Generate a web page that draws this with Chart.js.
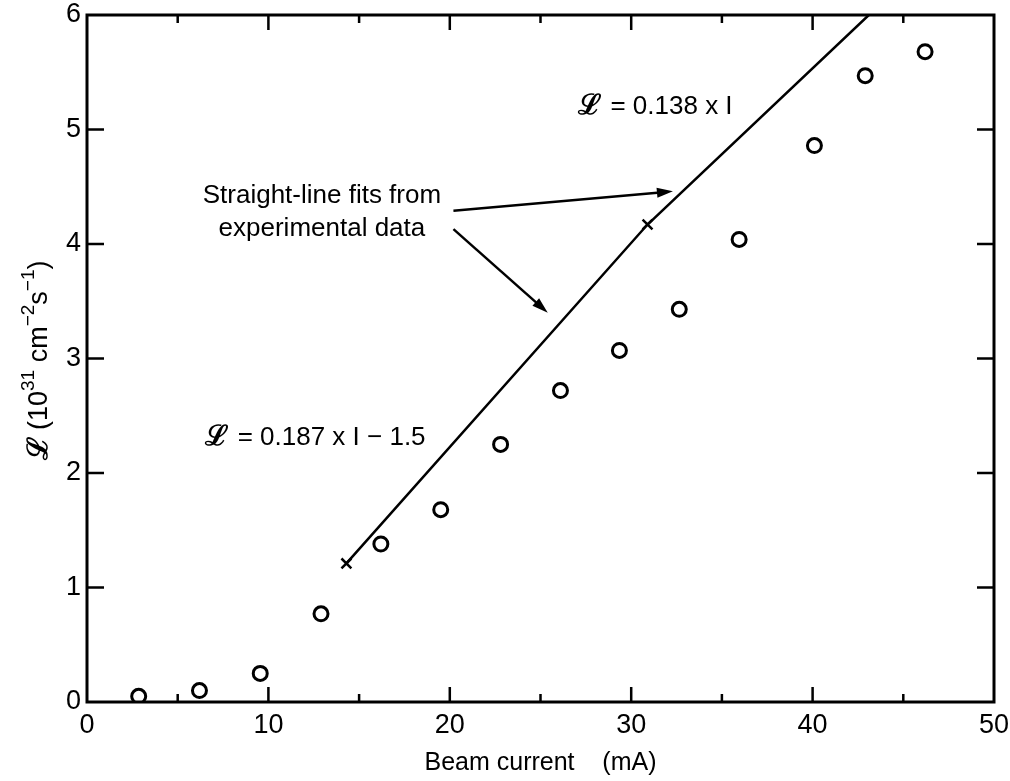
<!DOCTYPE html>
<html>
<head>
<meta charset="utf-8">
<script src="https://cdn.jsdelivr.net/npm/chart.js@4.4.0/dist/chart.umd.min.js"></script>
<style>
  body { margin: 0; background: #fff; }
  #wrap { width: 1010px; height: 781px; }
</style>
</head>
<body>
<div id="wrap"><canvas id="myChart"></canvas></div>
<script>
// measured points (beam current in mA, luminosity in 1e31 cm-2 s-1)
const beamCurrent = [2.85, 6.2, 9.55, 12.9, 16.2, 19.5, 22.8, 26.1, 29.35, 32.65, 35.95, 40.1, 42.9, 46.2];
const luminosity  = [0.05, 0.10, 0.25, 0.77, 1.38, 1.68, 2.25, 2.72, 3.07, 3.43, 4.04, 4.86, 5.47, 5.68];

// straight-line fits (crosses at the two first points)
const fitCurrent = [14.3, 30.9, 43.1];
const fitLum     = [1.21, 4.17, 6.0];

const xTickMajor = [10, 20, 30, 40];
const xTickMinor = [5, 15, 25, 35, 45];
const yTickMajor = [1, 2, 3, 4, 5];

// annotation texts and arrows, in data units
const noteLines = ['Straight-line fits from', 'experimental data'];
const noteAt = [[12.95, 4.42], [12.95, 4.13]];
const fitLabels = ['= 0.138 x I', '= 0.187 x I \u2212 1.5'];
const fitLabelAt = [[27.05, 5.2], [6.5, 2.31]];
const arrows = [
  [[20.2, 4.29], [32.3, 4.46]],
  [[20.2, 4.13], [25.4, 3.40]]
];

// y axis title pieces: [text, kind] kind: L = script symbol, n = normal, s = superscript
const yTitle = [['\u2112', 'L'], [' (10', 'n'], ['31', 's'], [' cm', 'n'], ['\u22122', 's'], ['s', 'n'], ['\u22121', 's'], [')', 'n']];

const FONT = "'Liberation Sans', Arial, 'DejaVu Sans', sans-serif";
const SCRIPT_L = "bold 28px 'DejaVu Serif', serif";

const pts = beamCurrent.map((x, i) => ({ x: x, y: luminosity[i] }));
const fitPts = fitCurrent.map((x, i) => ({ x: x, y: fitLum[i] }));

const frameTicks = {
  id: 'frameTicks',
  afterDraw(chart) {
    const ctx = chart.ctx;
    const a = chart.chartArea;
    const xs = chart.scales.x, ys = chart.scales.y;
    ctx.save();
    ctx.strokeStyle = '#000';
    ctx.lineWidth = 3;
    ctx.strokeRect(a.left, a.top, a.right - a.left, a.bottom - a.top);
    ctx.lineWidth = 2.5;
    ctx.beginPath();
    const xt = (v, len) => {
      const p = xs.getPixelForValue(v);
      ctx.moveTo(p, a.bottom); ctx.lineTo(p, a.bottom - len);
      ctx.moveTo(p, a.top); ctx.lineTo(p, a.top + len);
    };
    xTickMajor.forEach(v => xt(v, 15));
    xTickMinor.forEach(v => xt(v, 8));
    yTickMajor.forEach(v => {
      const p = ys.getPixelForValue(v);
      ctx.moveTo(a.left, p); ctx.lineTo(a.left + 17, p);
      ctx.moveTo(a.right, p); ctx.lineTo(a.right - 17, p);
    });
    ctx.stroke();

    // annotations
    ctx.fillStyle = '#000';
    ctx.font = '26px ' + FONT;
    ctx.textAlign = 'center';
    ctx.textBaseline = 'middle';
    noteLines.forEach((t, i) => {
      ctx.fillText(t, xs.getPixelForValue(noteAt[i][0]), ys.getPixelForValue(noteAt[i][1]));
    });
    ctx.textAlign = 'left';
    fitLabels.forEach((t, i) => {
      let x = xs.getPixelForValue(fitLabelAt[i][0]);
      const y = ys.getPixelForValue(fitLabelAt[i][1]);
      ctx.font = SCRIPT_L;
      ctx.fillText('\u2112', x, y);
      x += ctx.measureText('\u2112 ').width;
      ctx.font = '26px ' + FONT;
      ctx.fillText(t, x, y);
    });

    ctx.lineWidth = 2.5;
    arrows.forEach(ar => {
      const x1 = xs.getPixelForValue(ar[0][0]), y1 = ys.getPixelForValue(ar[0][1]);
      const x2 = xs.getPixelForValue(ar[1][0]), y2 = ys.getPixelForValue(ar[1][1]);
      const ang = Math.atan2(y2 - y1, x2 - x1);
      ctx.beginPath();
      ctx.moveTo(x1, y1);
      ctx.lineTo(x2 - 10 * Math.cos(ang), y2 - 10 * Math.sin(ang));
      ctx.stroke();
      ctx.beginPath();
      ctx.moveTo(x2, y2);
      ctx.lineTo(x2 - 16 * Math.cos(ang) + 5 * Math.sin(ang), y2 - 16 * Math.sin(ang) - 5 * Math.cos(ang));
      ctx.lineTo(x2 - 16 * Math.cos(ang) - 5 * Math.sin(ang), y2 - 16 * Math.sin(ang) + 5 * Math.cos(ang));
      ctx.closePath();
      ctx.fill();
    });

    // y axis title with real superscripts
    const fonts = { L: SCRIPT_L, n: '27px ' + FONT, s: '19px ' + FONT };
    let total = 0;
    yTitle.forEach(p => { ctx.font = fonts[p[1]]; total += ctx.measureText(p[0]).width; });
    ctx.translate(38, (a.top + a.bottom) / 2 + 2);
    ctx.rotate(-Math.PI / 2);
    ctx.textBaseline = 'alphabetic';
    let cx = -total / 2;
    yTitle.forEach(p => {
      ctx.font = fonts[p[1]];
      ctx.fillText(p[0], cx, p[1] === 's' ? -4 : 9);
      cx += ctx.measureText(p[0]).width;
    });
    ctx.restore();
  }
};

const ctx = document.getElementById('myChart');
const chart = new Chart(ctx, {
  type: 'scatter',
  data: {
    datasets: [
      {
        label: 'measured',
        data: pts,
        showLine: false,
        pointStyle: 'circle',
        pointRadius: 7,
        pointBorderWidth: 3,
        borderColor: '#000',
        backgroundColor: 'rgba(255,255,255,0)'
      },
      {
        label: 'fit',
        data: fitPts,
        showLine: true,
        borderColor: '#000',
        borderWidth: 2.5,
        pointStyle: 'crossRot',
        pointRadius: [7, 7, 0],
        pointBorderWidth: 2.5,
        pointBorderColor: '#000',
        fill: false,
        tension: 0
      }
    ]
  },
  options: {
    responsive: true,
    maintainAspectRatio: false,
    animation: false,
    layout: { autoPadding: false, padding: { left: 0, right: 16, top: 15, bottom: 0 } },
    plugins: {
      legend: { display: false },
      tooltip: { enabled: false }
    },
    scales: {
      x: {
        type: 'linear',
        min: 0,
        max: 50,
        ticks: { stepSize: 10, color: '#000', font: { family: FONT, size: 27, lineHeight: 1 }, padding: 10, maxRotation: 0 },
        grid: { display: false, drawTicks: false },
        border: { display: false },
        title: {
          display: true,
          text: 'Beam current    (mA)',
          color: '#000',
          font: { family: FONT, size: 25 },
          padding: { top: 0, bottom: 3 }
        },
        afterFit: (s) => { s.height = 79; s.paddingLeft = 0; s.paddingRight = 0; }
      },
      y: {
        min: 0,
        max: 6,
        ticks: { stepSize: 1, color: '#000', font: { family: FONT, size: 27, lineHeight: 1 }, padding: 6 },
        grid: { display: false, drawTicks: false },
        border: { display: false },
        title: { display: false },
        afterFit: (s) => { s.width = 87; s.paddingTop = 0; s.paddingBottom = 0; }
      }
    }
  },
  plugins: [frameTicks]
});
</script>
</body>
</html>
